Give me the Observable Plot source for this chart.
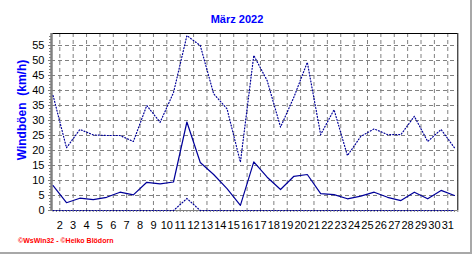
<!DOCTYPE html>
<html><head><meta charset="utf-8">
<script src="https://cdn.jsdelivr.net/npm/d3@7"></script>
<script src="https://cdn.jsdelivr.net/npm/@observablehq/plot@0.6"></script>
<style>
body{margin:0;background:#fff;}
#wrap{position:relative;width:472px;height:255px;overflow:hidden;font-family:"Liberation Sans",Arial,sans-serif;background:#fff;}
#chart{position:absolute;left:0;top:0;}
#title{position:absolute;left:0;width:474px;top:12.5px;line-height:13px;text-align:center;font-weight:bold;font-size:11px;color:#0000ff;}
#ylabel{position:absolute;left:22px;top:110px;transform:translate(-50%,-50%) rotate(-90deg);white-space:pre;font-weight:bold;font-size:12px;line-height:14px;color:#0000ff;}
#credit{position:absolute;left:18px;top:236.5px;line-height:8px;font-size:7px;font-weight:bold;color:#ff0000;white-space:pre;}
#bordR{position:absolute;left:470px;top:0;width:2px;height:254px;background:#a8a8a8;}
#bordB{position:absolute;left:0;top:252px;width:472px;height:2px;background:#a8a8a8;}
</style></head>
<body>
<div id="wrap">
<div id="chart"></div>
<div id="title">März 2022</div>
<div id="ylabel">Windböen  (km/h)</div>
<div id="credit">©WsWin32 - ©Heiko Blödorn</div>
<div id="bordR"></div><div id="bordB"></div>
</div>
<script>
const days = d3.range(1, 32);
const gustMax = [38.3, 20.9, 27, 25.2, 25, 25, 23, 35, 29.4, 39.3, 58.3, 55, 38.9, 33.9, 16.1, 51.7, 43.3, 27.8, 37.8, 49.4, 25.3, 33.6, 18.3, 24.7, 27.2, 25.3, 25.3, 31.4, 23, 27, 20.9];
const gustMean = [8.3, 2.6, 4.1, 3.6, 4.4, 6.1, 5.2, 9.4, 8.9, 9.5, 29.5, 16, 12, 7.3, 1.7, 16.2, 11.1, 7, 11.4, 12, 5.6, 5.3, 3.9, 4.8, 6.1, 4.4, 3.3, 6.1, 3.9, 6.7, 5];
const gustMin = [0, 0, 0, 0, 0, 0, 0, 0, 0, 0, 4, 0, 0, 0, 0, 0, 0, 0, 0, 0, 0, 0, 0, 0, 0, 0, 0, 0, 0, 0, 0];
const yTickValues = [0, 5, 10, 15, 20, 25, 30, 35, 40, 45, 50, 55];
const xTickLabels = d3.range(2, 32);

const toRows = arr => days.map((d, i) => ({day: d, v: arr[i]}));
const maxRows = toRows(gustMax), meanRows = toRows(gustMean), minRows = toRows(gustMin);
const lineColor = "#000099";
const gridColor = "#808080";
const xMin = 0.88, xMax = 31.25, yMax = 59;

const chart = Plot.plot({
  width: 472, height: 255,
  marginLeft: 51, marginRight: 14.7, marginTop: 33, marginBottom: 45,
  x: {domain: [xMin, xMax], label: null},
  y: {domain: [0, yMax], label: null},
  style: {fontFamily: "'Liberation Sans', Arial, sans-serif", fontSize: "11px", color: "#000", background: "transparent", overflow: "visible"},
  marks: [
    Plot.ruleY(yTickValues.filter(v => v > 0), {stroke: gridColor, strokeDasharray: "4,3"}),
    Plot.ruleX(xTickLabels.map(n => n - 0.5), {stroke: gridColor, strokeDasharray: "4,3"}),
    Plot.axisY(yTickValues, {tickSize: 3, tickPadding: 4, stroke: gridColor, fill: "#000", label: null}),
    Plot.axisY(d3.range(0, yMax, 1), {tickSize: 2, text: null, stroke: gridColor, label: null}),
    Plot.axisX(d3.range(1, xMax + 0.01, 0.25), {tickSize: 2, text: null, stroke: gridColor, label: null}),
    Plot.axisX(xTickLabels.map(n => n - 0.5), {tickSize: 0, tickPadding: 11, tickFormat: d => String(Math.round(d + 0.5)), fill: "#000", label: null}),
    Plot.ruleY([0], {stroke: gridColor}),
    Plot.ruleY([yMax], {stroke: "#000"}),
    Plot.ruleX([xMax], {stroke: "#000"}),
    Plot.ruleX([xMin], {stroke: gridColor, strokeWidth: 2.5}),
    Plot.line(minRows, {x: "day", y: "v", stroke: lineColor, strokeWidth: 1.2, strokeDasharray: "1,2"}),
    Plot.line(meanRows, {x: "day", y: "v", stroke: lineColor, strokeWidth: 1.2}),
    Plot.line(maxRows, {x: "day", y: "v", stroke: lineColor, strokeWidth: 1.2, strokeDasharray: "1,2"})
  ]
});
document.getElementById("chart").appendChild(chart);
</script>
</body></html>
